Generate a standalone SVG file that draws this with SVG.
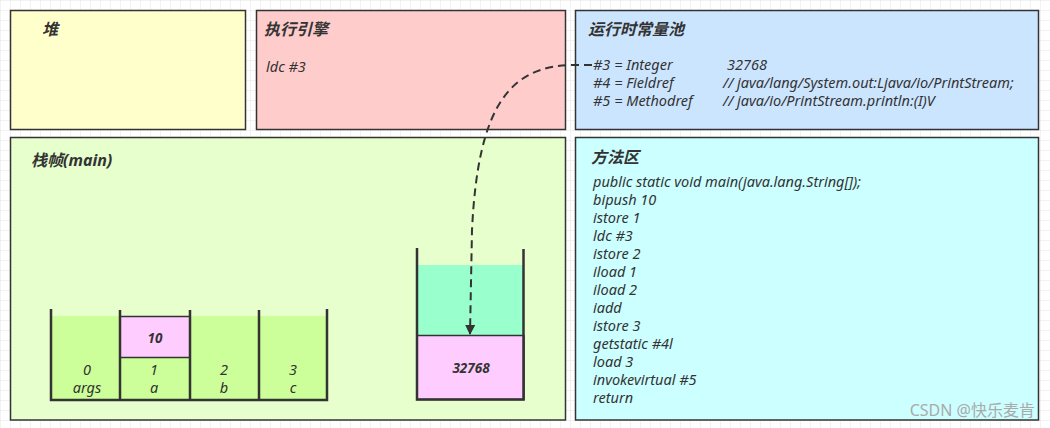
<svg xmlns="http://www.w3.org/2000/svg" width="1050" height="428" viewBox="0 0 1050 428">
<style>
.box{stroke:#333;stroke-width:1.5}
.t{font-family:"Noto Sans","Noto Sans CJK SC",sans-serif;font-style:italic;fill:#333;font-size:14.5px}
.h{font-family:"Noto Sans","Noto Sans CJK SC",sans-serif;font-style:italic;font-weight:bold;fill:#333;font-size:16px}
.b{font-family:"Noto Sans",sans-serif;font-style:italic;font-weight:bold;fill:#333;font-size:13.5px}
.wall{stroke:#333;stroke-width:2.5;fill:none}
.ln{stroke:#333;stroke-width:1.5}
</style>
<defs>
<pattern id="grid" width="10" height="10" patternUnits="userSpaceOnUse" x="0" y="0">
<path d="M10 0 L0 0 0 10" fill="none" stroke="#e6e6e6" stroke-width="1"/>
</pattern>
<marker id="arr" viewBox="0 0 10 10" refX="9" refY="5" markerWidth="10" markerHeight="10" markerUnits="userSpaceOnUse" orient="auto">
<path d="M0 0 L10 5 L0 10 Z" fill="#333"/>
</marker>
</defs>
<rect width="1050" height="428" fill="#fff"/>
<rect width="1050" height="428" fill="url(#grid)"/>

<g id="heap">
<rect class="box" x="10.5" y="10.5" width="235" height="119" fill="#FFFFCC"/>
<text class="h" x="42" y="35">堆</text>
</g>

<g id="engine">
<rect class="box" x="256.5" y="10.5" width="309" height="119" fill="#FFCCCC"/>
<text class="h" x="264" y="35">执行引擎</text>
<text class="t" x="266" y="72">ldc #3</text>
</g>

<g id="constpool">
<rect class="box" x="575.5" y="10.5" width="463" height="119" fill="#CCE5FF"/>
<text class="h" x="588" y="35">运行时常量池</text>
<text class="t" x="593" y="70">#3 = Integer</text>
<text class="t" x="727" y="70">32768</text>
<text class="t" x="593" y="88">#4 = Fieldref</text>
<text class="t" x="723" y="88">// java/lang/System.out:Ljava/io/PrintStream;</text>
<text class="t" x="593" y="106">#5 = Methodref</text>
<text class="t" x="723" y="106">// java/io/PrintStream.println:(I)V</text>
</g>

<g id="frame">
<rect class="box" x="10.5" y="137.5" width="555" height="282.5" fill="#E6FFCC"/>
<text class="h" x="31" y="166">栈帧(main)</text>
</g>

<g id="locals">
<rect x="51" y="316" width="276" height="84" fill="#CCFF99"/>
<rect class="ln" x="120" y="316.5" width="70" height="41" fill="#FFCCFF"/>
<text class="b" x="155" y="343" text-anchor="middle">10</text>
<path class="wall" d="M51 309 V400 H327 V309 M120 310 V400 M190 310 V400 M259 310 V400"/>
<text class="t" x="87" y="375" text-anchor="middle">0</text>
<text class="t" x="87" y="393" text-anchor="middle">args</text>
<text class="t" x="154" y="375" text-anchor="middle">1</text>
<text class="t" x="154" y="393" text-anchor="middle">a</text>
<text class="t" x="224" y="375" text-anchor="middle">2</text>
<text class="t" x="224" y="393" text-anchor="middle">b</text>
<text class="t" x="293" y="375" text-anchor="middle">3</text>
<text class="t" x="293" y="393" text-anchor="middle">c</text>
</g>

<g id="opstack">
<rect x="417" y="265" width="107" height="70.5" fill="#99FFCC"/>
<rect class="ln" x="417" y="335.5" width="107" height="64" fill="#FFCCFF"/>
<text class="b" x="471" y="373" text-anchor="middle">32768</text>
<path class="wall" d="M417 248 V399.5 H523.5 V249"/>
</g>

<g id="method">
<rect class="box" x="575.5" y="137.5" width="463" height="282.5" fill="#CCFFFF"/>
<text class="h" x="591" y="163">方法区</text>
<text class="t" x="593" y="187">public static void main(java.lang.String[]);</text>
<text class="t" x="593" y="205">bipush 10</text>
<text class="t" x="593" y="223">istore 1</text>
<text class="t" x="593" y="241">ldc #3</text>
<text class="t" x="593" y="259">istore 2</text>
<text class="t" x="593" y="277">iload 1</text>
<text class="t" x="593" y="295">iload 2</text>
<text class="t" x="593" y="313">iadd</text>
<text class="t" x="593" y="331">istore 3</text>
<text class="t" x="593" y="349">getstatic #4l</text>
<text class="t" x="593" y="367">load 3</text>
<text class="t" x="593" y="385">invokevirtual #5</text>
<text class="t" x="593" y="403">return</text>
</g>

<g id="connectors">
<path d="M592 65 L575 65 C510 65 478 105 472 230 L470 334" fill="none" stroke="#333" stroke-width="2" stroke-dasharray="8 5" marker-end="url(#arr)"/>
</g>

<text x="1035" y="416" text-anchor="end" font-family="Noto Sans, Noto Sans CJK SC, sans-serif" font-size="16" fill="#aaa">CSDN @快乐麦肯</text>
</svg>
